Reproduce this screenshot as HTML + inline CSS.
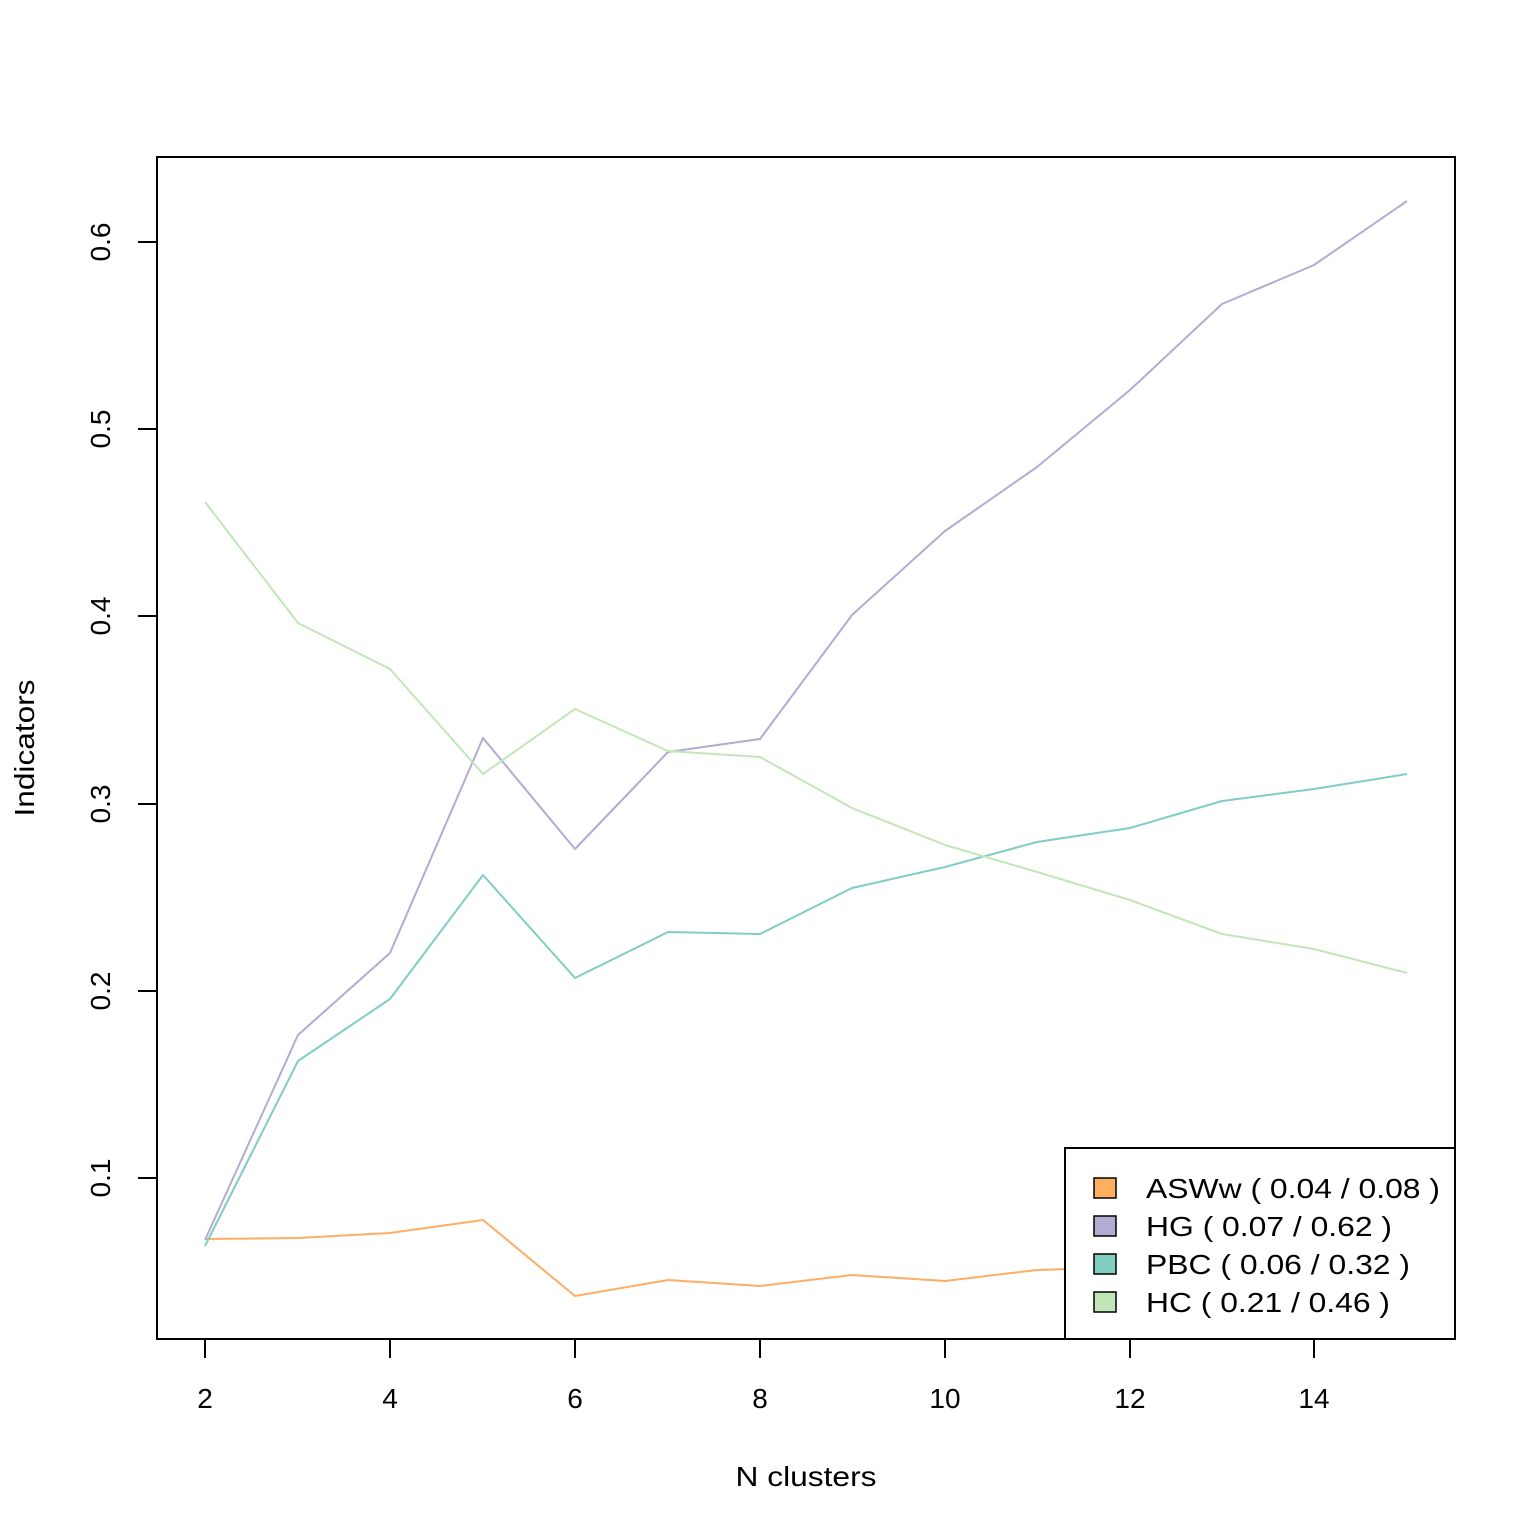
<!DOCTYPE html>
<html><head><meta charset="utf-8"><style>
html,body{margin:0;padding:0;background:#fff;}
svg{display:block;font-family:"Liberation Sans",Arial,sans-serif;}
</style></head><body>
<svg width="1536" height="1536" viewBox="0 0 1536 1536" xmlns="http://www.w3.org/2000/svg">
<rect width="1536" height="1536" fill="#fff"/>
<g fill="none" stroke-width="2" stroke-linejoin="round">
<polyline stroke="#FDAE61" points="205,1239 298,1238 390,1233 483,1220 575,1296 668,1280 760,1286 852,1275 945,1281 1037,1270 1130,1267 1222,1265 1314,1262 1407,1260"/>
<polyline stroke="#B2ABD2" points="205,1240 298,1035 390,953 483,738 575,849 668,752 760,739 852,615 945,531 1037,467 1130,390 1222,304 1314,265 1407,201"/>
<polyline stroke="#80CDC1" points="205,1246 298,1061 390,999 483,875 575,978 668,932 760,934 852,888 945,867 1037,842 1130,828 1222,801 1314,789 1407,774"/>
<polyline stroke="#C2E6B8" points="205,502 298,623 390,669 483,774 575,709 668,751 760,757 852,808 945,845 1037,872 1130,900 1222,934 1314,949 1407,973"/>
</g>
<rect x="157" y="157" width="1298" height="1182" fill="none" stroke="#000" stroke-width="2"/>
<g stroke="#000" stroke-width="2">
<line x1="205" y1="1339" x2="1314" y2="1339"/>
<line x1="205" y1="1339" x2="205" y2="1358"/><line x1="390" y1="1339" x2="390" y2="1358"/>
<line x1="575" y1="1339" x2="575" y2="1358"/><line x1="760" y1="1339" x2="760" y2="1358"/>
<line x1="945" y1="1339" x2="945" y2="1358"/><line x1="1130" y1="1339" x2="1130" y2="1358"/>
<line x1="1314" y1="1339" x2="1314" y2="1358"/>
<line x1="157" y1="242" x2="157" y2="1178"/>
<line x1="138" y1="242" x2="157" y2="242"/><line x1="138" y1="429" x2="157" y2="429"/>
<line x1="138" y1="616" x2="157" y2="616"/><line x1="138" y1="804" x2="157" y2="804"/>
<line x1="138" y1="991" x2="157" y2="991"/><line x1="138" y1="1178" x2="157" y2="1178"/>
</g>
<g font-size="28" text-anchor="middle" fill="#000">
<text x="205" y="1408">2</text><text x="390" y="1408">4</text><text x="575" y="1408">6</text>
<text x="760" y="1408">8</text><text x="945" y="1408">10</text><text x="1130" y="1408">12</text>
<text x="1314" y="1408">14</text>
<text x="806" y="1486" textLength="141" lengthAdjust="spacingAndGlyphs">N clusters</text>
<text transform="translate(110,242) rotate(-90)">0.6</text>
<text transform="translate(110,429) rotate(-90)">0.5</text>
<text transform="translate(110,616) rotate(-90)">0.4</text>
<text transform="translate(110,804) rotate(-90)">0.3</text>
<text transform="translate(110,991) rotate(-90)">0.2</text>
<text transform="translate(110,1178) rotate(-90)">0.1</text>
<text transform="translate(34,748) rotate(-90)" textLength="137" lengthAdjust="spacingAndGlyphs">Indicators</text>
</g>
<rect x="1065" y="1148" width="390" height="191" fill="#fff" stroke="#000" stroke-width="2"/>
<g stroke="#000" stroke-width="1.5">
<rect x="1094" y="1178" width="22" height="20" fill="#FDAE61"/>
<rect x="1094" y="1216" width="22" height="20" fill="#B2ABD2"/>
<rect x="1094" y="1254" width="22" height="20" fill="#80CDC1"/>
<rect x="1094" y="1292" width="22" height="20" fill="#C2E6B8"/>
</g>
<g font-size="28" fill="#000">
<text x="1146" y="1198" textLength="294" lengthAdjust="spacingAndGlyphs">ASWw ( 0.04 / 0.08 )</text>
<text x="1146" y="1236" textLength="246" lengthAdjust="spacingAndGlyphs">HG ( 0.07 / 0.62 )</text>
<text x="1146" y="1274" textLength="264" lengthAdjust="spacingAndGlyphs">PBC ( 0.06 / 0.32 )</text>
<text x="1146" y="1312" textLength="244" lengthAdjust="spacingAndGlyphs">HC ( 0.21 / 0.46 )</text>
</g>
</svg>
</body></html>
